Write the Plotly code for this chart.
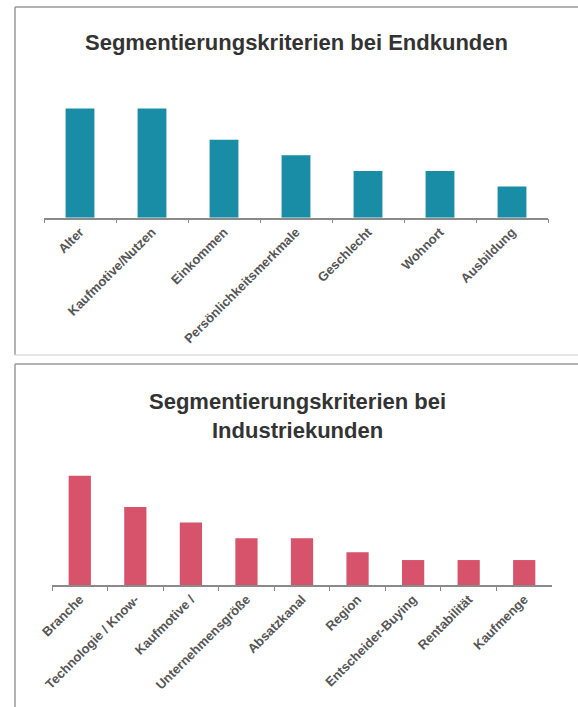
import plotly.graph_objects as go

W, H = 578, 707

# --- data ---
end_categories = ["Alter", "Kaufmotive/Nutzen", "Einkommen", "Persönlichkeitsmerkmale",
                  "Geschlecht", "Wohnort", "Ausbildung"]
end_values = [35, 35, 25, 20, 15, 15, 10]

ind_categories = ["Branche", "Technologie / Know-", "Kaufmotive /", "Unternehmensgröße",
                  "Absatzkanal", "Region", "Entscheider-Buying", "Rentabilität", "Kaufmenge"]
ind_values = [35, 25, 20, 15, 15, 10.5, 8, 8, 8]

title_end = "Segmentierungskriterien bei Endkunden"
title_ind_1 = "Segmentierungskriterien bei"
title_ind_2 = "Industriekunden"

TEAL = "#1a8da6"
RED = "#d6536b"
FONT = "Liberation Sans, Arial, sans-serif"


def px(x):
    return x / W


def py(y):
    return 1 - y / H


fig = go.Figure()
fig.add_trace(go.Bar(x=end_categories, y=end_values, marker=dict(color=TEAL, line=dict(width=0)),
                     xaxis="x", yaxis="y", hoverinfo="x+y"))
fig.add_trace(go.Bar(x=ind_categories, y=ind_values, marker=dict(color=RED, line=dict(width=0)),
                     xaxis="x2", yaxis="y2", hoverinfo="x+y"))

unit = 3.12  # px per value unit
yr = 40
top_base = 217.7
bot_base = 585.0

xaxis_common = dict(showgrid=False, zeroline=False, showline=True, linecolor="#8a8a8a",
                    linewidth=1.5, ticks="outside", tickson="boundaries", ticklen=4,
                    tickcolor="#8a8a8a", tickangle=-45, fixedrange=True, automargin=False,
                    tickfont=dict(family=FONT, size=13, color="#555555", weight="bold"))
yaxis_common = dict(visible=False, range=[0, yr], fixedrange=True)

fig.update_layout(
    width=W, height=H, margin=dict(l=0, r=0, t=0, b=0, autoexpand=False),
    paper_bgcolor="white", plot_bgcolor="white", showlegend=False,
    bargap=0.6,
    xaxis=dict(domain=[px(44), px(548)], anchor="y", **xaxis_common),
    yaxis=dict(domain=[py(top_base), py(top_base - yr * unit)], anchor="x", **yaxis_common),
    xaxis2=dict(domain=[px(52), px(552)], anchor="y2", **xaxis_common),
    yaxis2=dict(domain=[py(bot_base), py(bot_base - yr * unit)], anchor="x2", **yaxis_common),
)

# panel borders
line_dark = dict(color="#9a9a9a", width=1.5)
line_light = dict(color="#dddddd", width=1.5)
shapes = [
    dict(type="line", xref="paper", yref="paper", x0=px(15), x1=1, y0=py(7), y1=py(7), line=line_dark),
    dict(type="line", xref="paper", yref="paper", x0=px(15), x1=px(15), y0=py(7), y1=py(355), line=line_dark),
    dict(type="line", xref="paper", yref="paper", x0=px(15), x1=1, y0=py(355), y1=py(355), line=line_light),
    dict(type="line", xref="paper", yref="paper", x0=px(15), x1=1, y0=py(364), y1=py(364), line=line_dark),
    dict(type="line", xref="paper", yref="paper", x0=px(15), x1=px(15), y0=py(364), y1=0, line=line_dark),
]
fig.update_layout(shapes=shapes)

title_font = dict(family=FONT, size=22, color="#333333", weight="bold")
fig.add_annotation(text=title_end, xref="paper", yref="paper", x=px(296), y=py(42),
                   xanchor="center", yanchor="middle", showarrow=False, font=title_font)
fig.add_annotation(text=title_ind_1, xref="paper", yref="paper", x=px(297), y=py(401),
                   xanchor="center", yanchor="middle", showarrow=False, font=title_font)
fig.add_annotation(text=title_ind_2, xref="paper", yref="paper", x=px(297), y=py(431),
                   xanchor="center", yanchor="middle", showarrow=False, font=title_font)

fig.write_html("out.html", config={"displayModeBar": False},
               post_script="document.body.style.margin='0';document.body.style.overflow='hidden';")
